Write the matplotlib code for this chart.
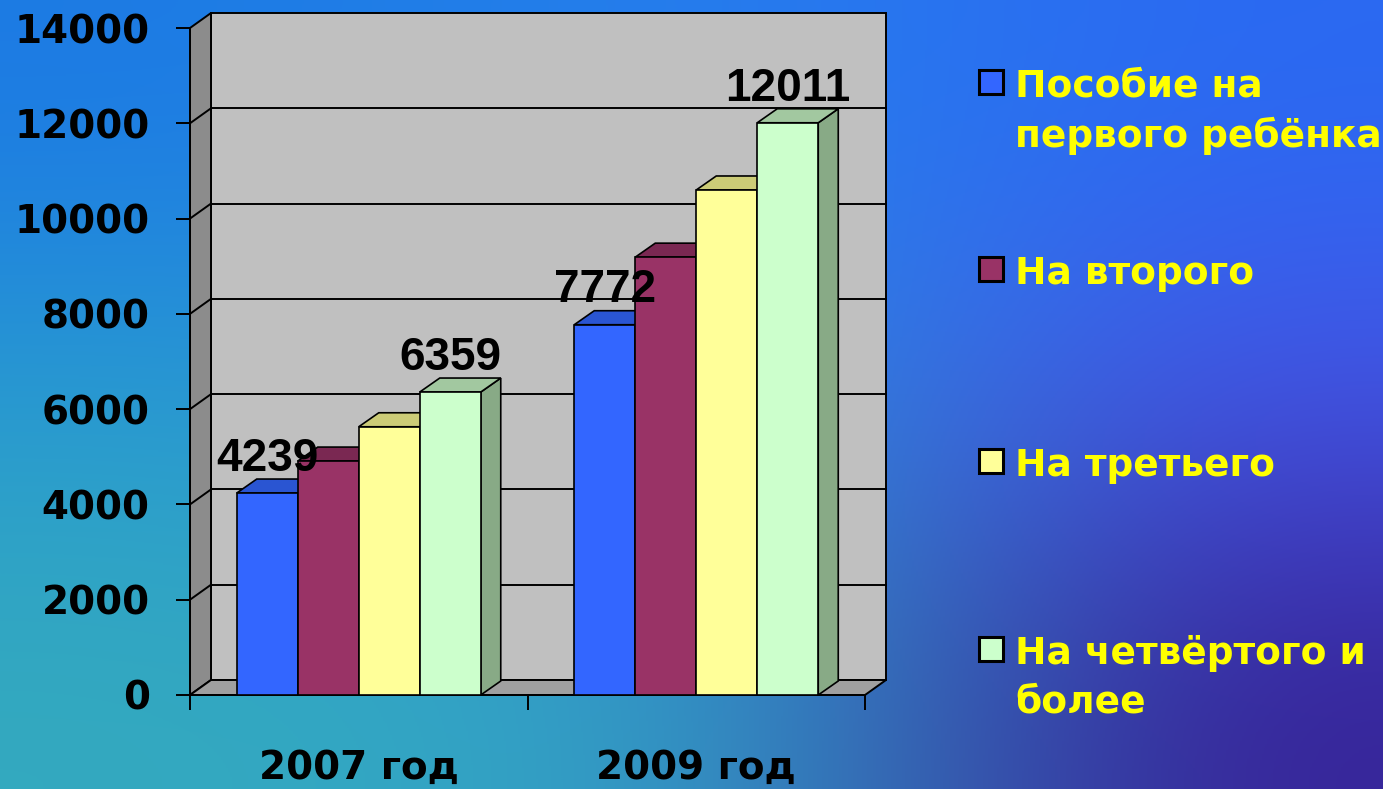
import numpy as np
import matplotlib
matplotlib.use("Agg")
import matplotlib.pyplot as plt
from matplotlib.patches import Polygon, Rectangle

# ---------------- data ----------------
categories = ["2007 год", "2009 год"]
series_names = ["Пособие на\nпервого ребёнка", "На второго", "На третьего",
                "На четвёртого и\nболее"]
first_child = [4239, 7772]
second_child = [4910, 9190]
third_child = [5630, 10600]
fourth_plus = [6359, 12011]
series_values = [first_child, second_child, third_child, fourth_plus]
labelled_series = [0, 3]          # series whose values are printed
y_ticks = list(range(0, 14001, 2000))

# ---------------- style ----------------
front_colors = ["#3366ff", "#993366", "#ffff99", "#ccffcc"]
top_colors = ["#2a55d2", "#7a2852", "#cccc77", "#a2c8a0"]
side_colors = ["#2447b0", "#6e2448", "#b8b870", "#88aa86"]

W, H = 1383, 789
fig = plt.figure(figsize=(W / 100, H / 100), dpi=100)

# background gradient
bg = fig.add_axes([0, 0, 1, 1], zorder=-10)
grid = np.array([
    [[28, 122, 228], [38, 128, 238], [42, 105, 242]],
    [[40, 155, 208], [42, 145, 218], [72, 82, 232]],
    [[52, 170, 190], [50, 162, 202], [55, 32, 150]],
]) / 255.0
bg.imshow(grid, extent=[0, 1, 0, 1], aspect="auto", interpolation="bicubic",
          origin="upper")
bg.set_xlim(0, 1)
bg.set_ylim(0, 1)
bg.axis("off")

# main axes = front plane of the 3D box
x0px, x1px, y0px, y1px = 190, 865, 695, 28
ax = fig.add_axes([x0px / W, (H - y0px) / H, (x1px - x0px) / W, (y0px - y1px) / H])
ax.set_xlim(0, 2)
ax.set_ylim(0, 14000)
ax.patch.set_visible(False)

pxx = (x1px - x0px) / 2.0          # px per x unit
pxy = (y0px - y1px) / 14000.0      # px per y unit
DX, DY = 21 / pxx, 15 / pxy        # wall depth
BDX, BDY = 20 / pxx, 14 / pxy      # bar depth
ymax = 14000

lw = 1.4
# back wall
ax.add_patch(Rectangle((DX, DY), 2, ymax, facecolor="#c0c0c0", edgecolor="black",
                       lw=lw, clip_on=False, zorder=1))
# side wall
ax.add_patch(Polygon([(0, 0), (0, ymax), (DX, ymax + DY), (DX, DY)], closed=True,
                     facecolor="#8c8c8c", edgecolor="black", lw=lw, clip_on=False, zorder=1))
# floor
ax.add_patch(Polygon([(0, 0), (2, 0), (2 + DX, DY), (DX, DY)], closed=True,
                     facecolor="#a0a0a0", edgecolor="black", lw=lw, clip_on=False, zorder=1))
# gridlines
for v in y_ticks[1:-1]:
    ax.plot([DX, 2 + DX], [v + DY, v + DY], color="black", lw=lw, clip_on=False, zorder=1.5)
    ax.plot([0, DX], [v, v + DY], color="black", lw=lw, clip_on=False, zorder=1.5)

# bars
bar_w = 61 / pxx
n = len(series_values)
z = 3
for gi, cat in enumerate(categories):
    center = gi + 0.5
    for si in range(n):
        v = series_values[si][gi]
        xl = center - n / 2 * bar_w + si * bar_w
        xr = xl + bar_w
        ax.add_patch(Polygon([(xr, 0), (xr + BDX, BDY), (xr + BDX, v + BDY), (xr, v)],
                             closed=True, facecolor=side_colors[si], edgecolor="black",
                             lw=1.2, clip_on=False, zorder=z))
        ax.add_patch(Polygon([(xl, v), (xr, v), (xr + BDX, v + BDY), (xl + BDX, v + BDY)],
                             closed=True, facecolor=top_colors[si], edgecolor="black",
                             lw=1.2, clip_on=False, zorder=z))
        ax.add_patch(Rectangle((xl, 0), bar_w, v, facecolor=front_colors[si],
                               edgecolor="black", lw=1.2, clip_on=False, zorder=z + 0.5))
        z += 1
        if si in labelled_series:
            ax.annotate(str(v), (center - n / 2 * bar_w + (si + 0.5) * bar_w, v),
                        xytext=(0, 16), textcoords="offset points", ha="center",
                        va="baseline", fontsize=33, fontweight="bold",
                        family="Liberation Sans", color="black", zorder=50,
                        annotation_clip=False)

# axes styling
for s in ["top", "right"]:
    ax.spines[s].set_visible(False)
for s in ["left", "bottom"]:
    ax.spines[s].set_color("black")
    ax.spines[s].set_linewidth(lw)
    ax.spines[s].set_zorder(2)

ax.set_yticks(y_ticks)
ax.set_yticklabels([str(t) for t in y_ticks])
ax.tick_params(axis="y", length=10, width=lw, pad=19, labelsize=28)
for lab in ax.get_yticklabels():
    lab.set_fontweight("bold")
    lab.set_family("DejaVu Sans")

ax.set_xticks([0, 1, 2])
ax.set_xticklabels([])
ax.set_xticks([0.5, 1.5], minor=True)
ax.set_xticklabels(categories, minor=True)
ax.tick_params(axis="x", which="major", length=11, width=lw)
ax.tick_params(axis="x", which="minor", length=0, pad=39, labelsize=28)
for lab in ax.get_xticklabels(minor=True):
    lab.set_fontweight("bold")
    lab.set_family("DejaVu Sans")

# legend (manual)
first_baselines = [97, 284, 476, 664]
for si, name in enumerate(series_names):
    b = first_baselines[si]
    cy = b - 15
    fig.patches.append(Rectangle((979 / W, (H - (cy + 12)) / H), 24 / W, 24 / H,
                                 transform=fig.transFigure, facecolor=front_colors[si],
                                 edgecolor="black", lw=2.2))
    fig.text(1015 / W, (H - (b - 28.5)) / H, name, ha="left", va="top",
             fontsize=27, fontweight="bold", family="DejaVu Sans",
             color="#ffff00", linespacing=1.42)

fig.savefig("out.png", dpi=100)
